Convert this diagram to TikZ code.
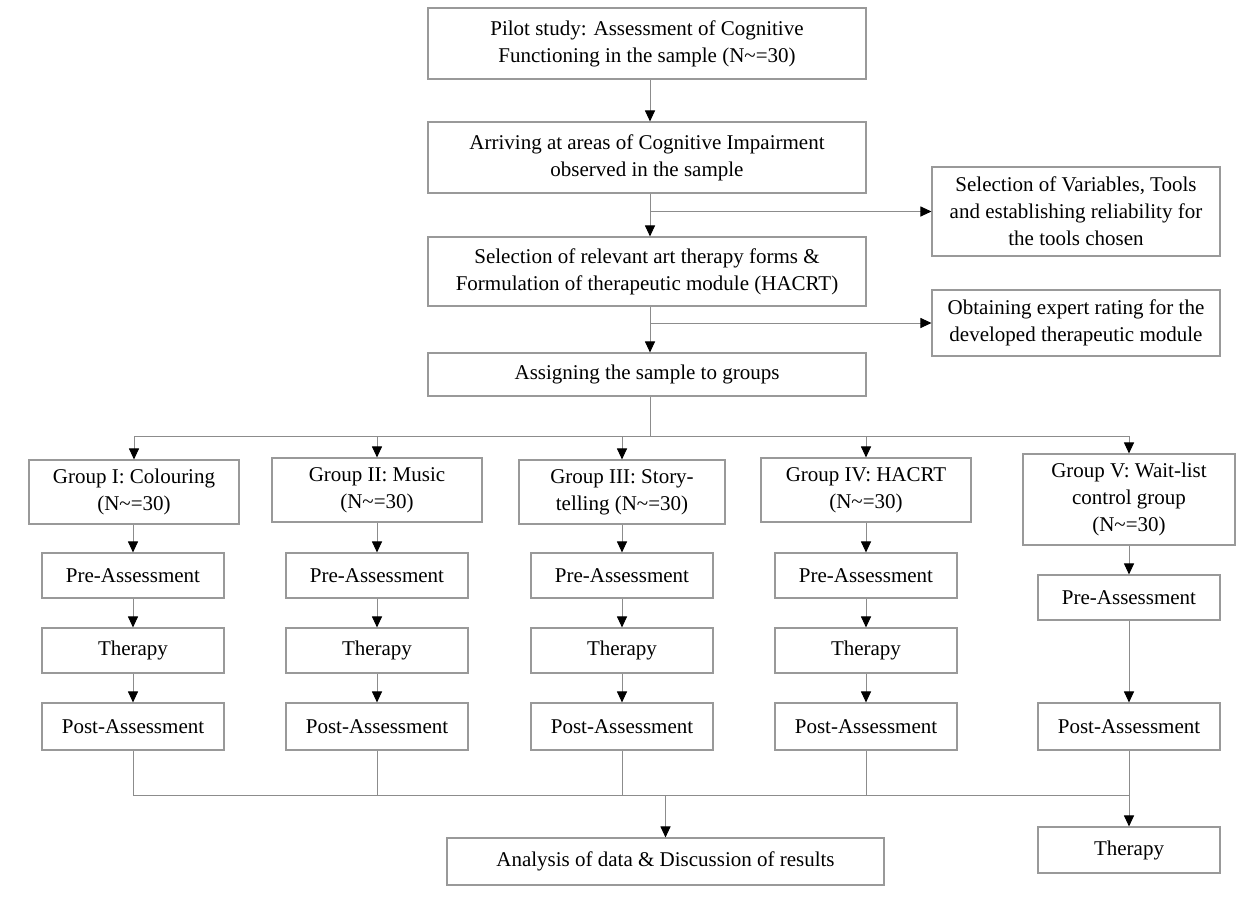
\documentclass[tikz,border=0pt]{standalone}
\usepackage{fontspec}
\setmainfont{Liberation Serif}
\usetikzlibrary{arrows.meta}
\begin{document}
\begin{tikzpicture}[x=1pt,y=-1pt,
  box/.style={draw=black!40,line width=1.1pt,rectangle,inner sep=0pt,align=center,
     font=\fontsize{21}{27}\selectfont,text=black},
  ln/.style={draw=black!45,line width=1pt},
  arr/.style={ln,-{Triangle[length=11pt,width=10pt,fill=black,color=black]}}]
\useasboundingbox (0,0) rectangle (1248,897);
% top chain
\node[box,minimum width=438,minimum height=71] (pilot) at (647,43.5) {Pilot study: Assessment of Cognitive\\Functioning in the sample (N\textasciitilde=30)};
\node[box,minimum width=438,minimum height=71] (arr) at (647,157.5) {Arriving at areas of Cognitive Impairment\\observed in the sample};
\node[box,minimum width=438,minimum height=69] (sel) at (647,271.5) {Selection of relevant art therapy forms \&\\Formulation of therapeutic module (HACRT)};
\node[box,minimum width=438,minimum height=43] (assign) at (647,374.5) {Assigning the sample to groups};
\node[box,minimum width=288,minimum height=89] (side1) at (1076,211.5) {Selection of Variables, Tools\\and establishing reliability for\\the tools chosen};
\node[box,minimum width=288,minimum height=66] (side2) at (1076,323) {Obtaining expert rating for the\\developed therapeutic module};
\coordinate (b1) at (650,211.5);
\coordinate (b2) at (650,323);
\draw[arr] (pilot.south -| 650,0) -- (arr.north -| 650,0);
\draw[arr] (arr.south -| 650,0) -- (sel.north -| 650,0);
\draw[arr] (b1) -- (side1.west);
\draw[arr] (sel.south -| 650,0) -- (assign.north -| 650,0);
\draw[arr] (b2) -- (side2.west);
% groups
\node[box,minimum width=210,minimum height=64] (g1) at (134,492) {Group I: Colouring\\(N\textasciitilde=30)};
\node[box,minimum width=210,minimum height=64] (g2) at (377,490) {Group II: Music\\(N\textasciitilde=30)};
\node[box,minimum width=206,minimum height=64] (g3) at (622,492) {Group III: Story-\\telling (N\textasciitilde=30)};
\node[box,minimum width=210,minimum height=64] (g4) at (866,490) {Group IV: HACRT\\(N\textasciitilde=30)};
\node[box,minimum width=212,minimum height=91] (g5) at (1129,499.5) {Group V: Wait-list\\control group\\(N\textasciitilde=30)};
\coordinate (split) at (650,436);
\coordinate (sl) at (134,436);
\coordinate (sr) at (1129,436);
\draw[ln] (assign.south -| 650,0) -- (split);
\draw[ln] (sl) -- (sr);
\foreach \g in {g1,g2,g3,g4,g5}{\draw[arr] (\g.north |- split) -- (\g.north);}
% sub boxes
\foreach \c/\x in {1/133,2/377,3/622,4/866}{
  \node[box,minimum width=182,minimum height=45] (pre\c) at (\x,575.5) {Pre-Assessment};
  \node[box,minimum width=182,minimum height=45] (th\c) at (\x,650.5) {Therapy};
  \node[box,minimum width=182,minimum height=47] (post\c) at (\x,726.5) {Post-Assessment};
  \draw[arr] (g\c.south -| pre\c.north) -- (pre\c.north);
  \draw[arr] (pre\c) -- (th\c);
  \draw[arr] (th\c) -- (post\c);
}
\node[box,minimum width=182,minimum height=45] (pre5) at (1129,597.5) {Pre-Assessment};
\node[box,minimum width=182,minimum height=47] (post5) at (1129,726.5) {Post-Assessment};
\draw[arr] (g5) -- (pre5);
\draw[arr] (pre5) -- (post5);
% bottom
\node[box,minimum width=437,minimum height=47] (anal) at (665.5,861.5) {Analysis of data \& Discussion of results};
\node[box,minimum width=182,minimum height=46] (th5) at (1129,850) {Therapy};
\coordinate (jl) at (133,795);
\coordinate (jr) at (1129,795);
\coordinate (jm) at (665.5,795);
\foreach \c in {1,2,3,4}{\draw[ln] (post\c.south) -- (post\c.south |- jl);}
\draw[ln] (jl) -- (jr);
\draw[arr] (jm) -- (anal.north);
\draw[arr] (post5.south) -- (th5.north);
\end{tikzpicture}
\end{document}
